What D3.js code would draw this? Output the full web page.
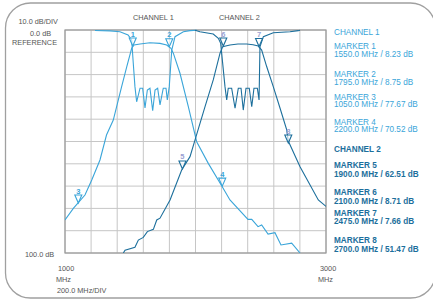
<!DOCTYPE html>
<html>
<head>
<meta charset="utf-8">
<script src="https://cdn.jsdelivr.net/npm/d3@7/dist/d3.min.js"></script>
<style>
  body { margin: 0; background: #fff; }
  svg text { font-family: "Liberation Sans", Arial, sans-serif; }
</style>
</head>
<body>
<div id="container"></div>
<script>
// frequency in MHz, level in dB
const ch1ThruF = [1000, 1064, 1102, 1153, 1205, 1268, 1318, 1370, 1434, 1473, 1511, 1529, 1575, 1651, 1728, 1779, 1812, 1830, 1881, 1945, 2009, 2098, 2205, 2264, 2402, 2431, 2479, 2507, 2556, 2609, 2655, 2737, 2801];
const ch1ThruDb = [-85.2, -80.0, -77.4, -74.0, -67.3, -58.3, -47.1, -40.4, -25.4, -16.5, -8.2, -6.7, -6.3, -5.7, -6.0, -6.7, -8.2, -10.4, -19.4, -34.4, -50.1, -59.8, -70.3, -76.2, -84.9, -84.9, -88.2, -87.4, -91.5, -90.9, -96.4, -95.6, -100];

const ch1ReflF = [1230, 1345, 1421, 1483, 1511, 1523, 1536, 1549, 1575, 1595, 1613, 1631, 1651, 1672, 1690, 1710, 1728, 1753, 1774, 1784, 1799, 1818, 1843, 1907, 1958, 2012];
const ch1ReflDb = [-0.2, -0.4, -0.8, -2.2, -4.5, -14.8, -25.4, -32.2, -26.1, -26.1, -35.0, -26.9, -26.1, -36.2, -26.9, -26.1, -33.6, -26.1, -26.1, -31.4, -25.4, -9.0, -3.0, -0.8, -0.3, -0.1];

const ch2ThruF = [1447, 1460, 1536, 1562, 1600, 1631, 1677, 1703, 1728, 1805, 1894, 1958, 2004, 2073, 2136, 2188, 2208, 2264, 2325, 2392, 2441, 2481, 2507, 2546, 2596, 2648, 2699, 2711, 2801, 2941, 3000];
const ch2ThruDb = [-100, -98.7, -97.4, -94.2, -93.0, -90.4, -89.4, -85.2, -84.4, -76.2, -62.8, -56.8, -47.8, -34.4, -22.4, -10.4, -7.5, -6.7, -6.3, -6.3, -6.6, -7.2, -9.0, -16.5, -25.4, -35.1, -44.8, -49.8, -61.3, -76.2, -79.1];

const ch2ReflF = [1996, 2034, 2136, 2175, 2193, 2226, 2239, 2251, 2277, 2303, 2328, 2349, 2366, 2387, 2412, 2431, 2448, 2474, 2487, 2494, 2520, 2596, 2724, 2788, 2801];
const ch2ReflDb = [-0.1, -0.8, -1.8, -3.7, -6.0, -25.4, -31.4, -26.1, -26.1, -35.1, -26.1, -26.1, -35.9, -26.1, -26.1, -34.4, -26.1, -26.1, -31.4, -7.5, -3.0, -1.2, -0.8, -0.3, -0.1];

// markers as drawn on the traces
const markerIds = ['1', '2', '3', '4', '5', '6', '7', '8'];
const markerChannel = [1, 1, 1, 1, 2, 2, 2, 2];
const markerF = [1519, 1799, 1102, 2205, 1900, 2213, 2487, 2711];
const markerDb = [-7.2, -7.5, -77.6, -70.0, -62.3, -7.2, -7.4, -50.7];

// legend read-outs
const markerReadout = [
  '1550.0 MHz / 8.23 dB',
  '1795.0 MHz / 8.75 dB',
  '1050.0 MHz / 77.67 dB',
  '2200.0 MHz / 70.52 dB',
  '1900.0 MHz / 62.51 dB',
  '2100.0 MHz / 8.71 dB',
  '2475.0 MHz / 7.66 dB',
  '2700.0 MHz / 51.47 dB'
];

const W = 433, H = 301;
const c1 = '#3aa5d9', c2 = '#1c6f9c', grey = '#555', mkLabel2 = '#9a9fd2';

const svg = d3.select('#container').append('svg')
  .attr('width', W).attr('height', H);

// outer rounded frame
svg.append('rect')
  .attr('x', 5.5).attr('y', 3).attr('width', 430).attr('height', 295)
  .attr('rx', 25).attr('ry', 25)
  .attr('fill', 'none').attr('stroke', '#a0a0a0').attr('stroke-width', 1.3);

const x = d3.scaleLinear().domain([1000, 3000]).range([65, 326]);
const y = d3.scaleLinear().domain([0, -100]).range([30, 253]);

// grid
const grid = svg.append('g');
grid.selectAll('.vx').data(x.ticks(10)).enter().append('line')
  .attr('x1', d => x(d)).attr('x2', d => x(d))
  .attr('y1', y(0)).attr('y2', y(-100))
  .attr('stroke', '#c6c6c6').attr('stroke-width', 1);
grid.selectAll('.hy').data(y.ticks(10)).enter().append('line')
  .attr('y1', d => y(d)).attr('y2', d => y(d))
  .attr('x1', x(1000)).attr('x2', x(3000))
  .attr('stroke', '#c6c6c6').attr('stroke-width', 1);
svg.append('rect')
  .attr('x', x(1000)).attr('y', y(0))
  .attr('width', x(3000) - x(1000)).attr('height', y(-100) - y(0))
  .attr('fill', 'none').attr('stroke', '#9a9a9a').attr('stroke-width', 1.2);

svg.append('clipPath').attr('id', 'plot')
  .append('rect')
  .attr('x', x(1000)).attr('y', y(0) - 1)
  .attr('width', x(3000) - x(1000)).attr('height', y(-100) - y(0) + 1);

const line = d3.line().x(d => x(d[0])).y(d => y(d[1]));
const traces = [
  [d3.zip(ch1ThruF, ch1ThruDb), c1],
  [d3.zip(ch1ReflF, ch1ReflDb), c1],
  [d3.zip(ch2ThruF, ch2ThruDb), c2],
  [d3.zip(ch2ReflF, ch2ReflDb), c2]
];
svg.append('g').attr('clip-path', 'url(#plot)')
  .selectAll('path').data(traces).enter().append('path')
  .attr('d', d => line(d[0]))
  .attr('fill', 'none')
  .attr('stroke', d => d[1])
  .attr('stroke-width', 1.1);

// markers
const markers = markerIds.map((id, i) => ({
  id, ch: markerChannel[i], f: markerF[i], db: markerDb[i]
}));
const mk = svg.selectAll('.marker').data(markers).enter().append('g')
  .attr('class', 'marker')
  .attr('transform', d => `translate(${x(d.f)},${y(d.db)})`);
mk.append('path')
  .attr('d', 'M0,0 L-3.5,-8 L3.5,-8 Z')
  .attr('fill', 'rgba(255,255,255,0.6)')
  .attr('stroke', d => (d.ch === 1 ? c1 : c2))
  .attr('stroke-width', 1.1);
mk.append('text')
  .attr('y', -9.5)
  .attr('text-anchor', 'middle')
  .attr('font-size', 7.5)
  .attr('font-weight', 'bold')
  .attr('fill', d => (d.ch === 1 ? c1 : mkLabel2))
  .text(d => d.id);

// axis texts
const labels = [
  ['10.0 dB/DIV', 18.5, 24],
  ['0.0 dB', 30, 35.5],
  ['REFERENCE', 12, 44.5],
  ['100.0 dB', 25, 256.5],
  ['1000', 58, 270.5],
  ['MHz', 56, 281.5],
  ['200.0 MHz/DIV', 57, 292.5],
  ['3000', 320, 270.5],
  ['MHz', 318, 281.5],
  ['CHANNEL 1', 133, 20],
  ['CHANNEL 2', 219, 20]
];
svg.selectAll('.lbl').data(labels).enter().append('text')
  .attr('x', d => d[1]).attr('y', d => d[2])
  .attr('font-size', 7.3)
  .attr('fill', grey)
  .text(d => d[0]);

// legend
const legendRows = [
  ['CHANNEL 1', 1, 35],
  ['MARKER 1', 1, 49], [markerReadout[0], 1, 56.5],
  ['MARKER 2', 1, 76.5], [markerReadout[1], 1, 84.5],
  ['MARKER 3', 1, 99.5], [markerReadout[2], 1, 107],
  ['MARKER 4', 1, 124.5], [markerReadout[3], 1, 132],
  ['CHANNEL 2', 2, 152],
  ['MARKER 5', 2, 168], [markerReadout[4], 2, 177],
  ['MARKER 6', 2, 194.5], [markerReadout[5], 2, 204],
  ['MARKER 7', 2, 215.5], [markerReadout[6], 2, 224],
  ['MARKER 8', 2, 243], [markerReadout[7], 2, 252]
];
svg.selectAll('.leg').data(legendRows).enter().append('text')
  .attr('x', 334).attr('y', d => d[2])
  .attr('font-size', 8.2)
  .attr('font-weight', d => (d[1] === 2 ? 'bold' : 'normal'))
  .attr('fill', d => (d[1] === 1 ? c1 : c2))
  .text(d => d[0]);
</script>
</body>
</html>
